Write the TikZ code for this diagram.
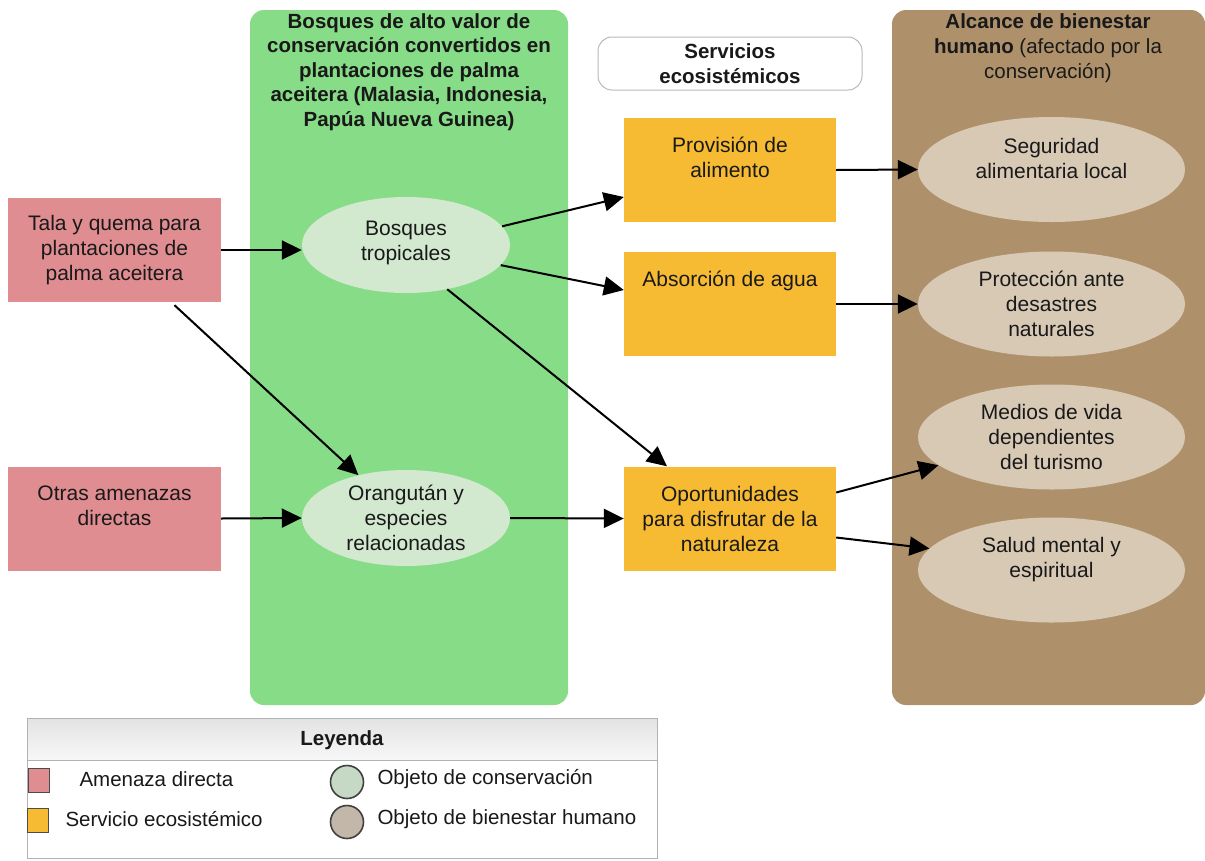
\documentclass[tikz,border=0pt]{standalone}
\usepackage{fontspec}
\setmainfont{Liberation Sans}
\usetikzlibrary{shapes.geometric,arrows.meta,calc}
\definecolor{panelgreen}{RGB}{135,220,135}
\definecolor{panelbrown}{RGB}{174,145,106}
\definecolor{threatpink}{RGB}{224,141,146}
\definecolor{serviceorange}{RGB}{246,187,50}
\definecolor{targetgreen}{RGB}{210,233,208}
\definecolor{wellbeingtan}{RGB}{216,201,181}
\definecolor{inkgray}{RGB}{25,25,25}

\begin{document}
\begin{tikzpicture}[x=1pt,y=-1pt,
  every node/.style={font=\fontsize{21}{25}\selectfont, align=center, text=inkgray},
  titletext/.style={font=\fontsize{20.5}{24.5}\selectfont\bfseries},
  panel/.style={rounded corners=14pt, draw=none},
  threat/.style={rectangle, fill=threatpink, minimum width=213pt, minimum height=104pt, inner sep=0pt},
  service/.style={rectangle, fill=serviceorange, minimum width=212pt, minimum height=104pt, inner sep=0pt},
  target/.style={ellipse, fill=targetgreen, minimum width=208pt, minimum height=96pt, inner sep=0pt},
  wellbeing/.style={ellipse, fill=wellbeingtan, minimum width=267pt, minimum height=105pt, inner sep=0pt},
  arr/.style={draw=black, line width=2pt, -{Triangle[length=20pt,width=19pt]}},
  legendtext/.style={anchor=west, font=\fontsize{20.5}{24}\selectfont},
]
\useasboundingbox (0,0) rectangle (1205,860);

% background panels
\fill[panel, panelgreen] (250,10) rectangle (568,705);
\fill[panel, panelbrown] (892,10) rectangle (1205,705);

% panel titles
\node[titletext] (gtitle) at (409,72) {Bosques de alto valor de\\conservación convertidos en\\plantaciones de palma\\aceitera (Malasia, Indonesia,\\Papúa Nueva Guinea)};
\node[font=\fontsize{20.5}{25}\selectfont] (btitle) at (1048,48) {\textbf{Alcance de bienestar}\\\textbf{humano} (afectado por la\\conservación)};
\node[titletext, draw=gray!55, line width=1pt, rounded corners=14pt, fill=white,
      minimum width=264pt, minimum height=53pt, inner sep=0pt] (shead) at (730,63.5) {Servicios\\ecosistémicos};

% direct threats
\node[threat] (tala) at (114.5,250) {Tala y quema para\\plantaciones de\\palma aceitera};
\node[threat] (otras) at (114.5,518.5) {Otras amenazas\\directas\\~};

% conservation targets
\node[target] (bosq) at (406,245) {Bosques\\tropicales\\[-16pt]~};
\node[target] (orang) at (406,518) {Orangután y\\especies\\relacionadas};

% ecosystem services
\node[service] (prov) at (730,170) {Provisión de\\alimento\\~};
\node[service] (abs) at (730,304) {Absorción de agua\\~\\~};
\node[service] (oport) at (730,518.5) {Oportunidades\\para disfrutar de la\\naturaleza};

% human wellbeing targets
\node[wellbeing] (seg) at (1051.5,169.5) {Seguridad\\alimentaria local\\[-3pt]~};
\node[wellbeing] (prot) at (1051.5,304) {Protección ante\\desastres\\naturales};
\node[wellbeing] (med) at (1051.5,437) {Medios de vida\\dependientes\\del turismo};
\node[wellbeing] (sal) at (1051.5,570) {Salud mental y\\espiritual\\~};

% connectors
\draw[arr] (tala.east) -- (tala.east -| bosq.west);
\draw[arr] ([xshift=60pt,yshift=-3pt]tala.south) -- (orang.138);
\draw[arr] (otras.east) -- (orang.west);
\draw[arr] (bosq.11) -- ([yshift=-27pt]prov.west);
\draw[arr] (bosq.-12) -- ([yshift=14pt]abs.west);
\draw[arr] (bosq.-47) -- ([xshift=-63pt]oport.north);
\draw[arr] (orang.east) -- (oport.west);
\draw[arr] (prov.east) -- (seg.west);
\draw[arr] (abs.east) -- (prot.west);
\draw[arr] ([yshift=26pt]oport.east) -- (med.194);
\draw[arr] ([yshift=-19pt]oport.east) -- (sal.170);

% legend
\shade[top color=gray!22, bottom color=gray!6] (27,718) rectangle (657,760);
\draw[gray!60, line width=1pt] (27,718) rectangle (657,858);
\draw[gray!60, line width=1pt] (27,760) -- (657,760);
\node[font=\fontsize{20.5}{24}\selectfont\bfseries] (leg) at (342,740) {Leyenda};
\node[draw=black!70, line width=1pt, fill=threatpink, minimum width=21pt, minimum height=24pt, inner sep=0pt] (lgthreat) at (39,780) {};
\node[legendtext] (lgthreatt) at (76,779) {Amenaza directa};
\node[draw=black!70, line width=1pt, fill=serviceorange, minimum width=21pt, minimum height=24pt, inner sep=0pt] (lgserv) at (38,820) {};
\node[legendtext] (lgservt) at (62,819) {Servicio ecosistémico};
\node[circle, draw=black!75, line width=1.6pt, fill=targetgreen!85!gray, minimum size=33pt, inner sep=0pt] (lgtarget) at (347,782) {};
\node[legendtext] (lgtargett) at (374,779) {Objeto de conservación};
\node[circle, draw=black!75, line width=1.6pt, fill=wellbeingtan!75!gray, minimum size=33pt, inner sep=0pt] (lgwell) at (347,822) {};
\node[legendtext] (lgwellt) at (374,819) {Objeto de bienestar humano};
\end{tikzpicture}
\end{document}
